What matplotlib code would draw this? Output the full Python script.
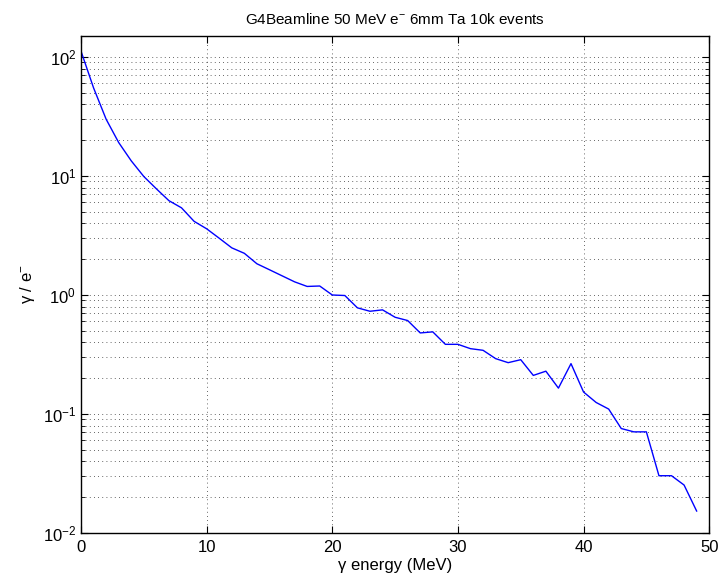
import numpy as np
import matplotlib
matplotlib.use("Agg")
import matplotlib.pyplot as plt
from matplotlib.ticker import LogLocator, MultipleLocator, NullFormatter

# Данные: спектр фотонов на электрон
energy = list(range(50))
photons = [112, 55, 30, 19.1, 13.4, 9.9, 7.8, 6.2, 5.4, 4.16,
           3.6, 3.0, 2.49, 2.24, 1.83, 1.63, 1.45, 1.29, 1.18, 1.19,
           1.0, 0.99, 0.78, 0.73, 0.75, 0.65, 0.61, 0.48, 0.49, 0.385,
           0.385, 0.354, 0.343, 0.292, 0.27, 0.286, 0.211, 0.229, 0.165, 0.265,
           0.153, 0.125, 0.110, 0.0755, 0.0708, 0.0708, 0.0303, 0.0303, 0.0253, 0.0153]

plt.rcParams['font.family'] = ['Liberation Sans', 'DejaVu Sans']
plt.rcParams['mathtext.default'] = 'regular'
plt.rcParams['font.size'] = 12

fig = plt.figure(figsize=(7.2, 5.81), dpi=100)
ax = fig.add_axes([0.1125, 0.0826, 0.8725, 0.8554])

ax.semilogy(energy, photons, color='#0000ff', linewidth=1.0)

ax.set_xlim(0, 50)
ax.set_ylim(0.01, 150)
ax.xaxis.set_major_locator(MultipleLocator(10))
ax.yaxis.set_major_locator(LogLocator(base=10, numticks=10))
ax.yaxis.set_minor_locator(LogLocator(base=10, subs=np.arange(2, 10), numticks=20))
ax.yaxis.set_minor_formatter(NullFormatter())

# Сетка в стиле MATLAB
grid_style = dict(color='black', linestyle=(0, (1, 4)), linewidth=0.6, alpha=0.8)
ax.grid(True, which='major', axis='both', **grid_style)
ax.grid(True, which='minor', axis='y', **grid_style)

ax.tick_params(which='both', direction='in', top=True, right=True, labelsize=12)
ax.tick_params(which='major', length=5)
ax.tick_params(which='minor', length=3)
ax.tick_params(axis='x', pad=5)
for s in ax.spines.values():
    s.set_linewidth(1.0)

ax.set_title('G4Beamline 50 MeV $e^{-}$ 6mm Ta 10k events', fontsize=11, pad=9)
ax.set_xlabel('γ energy (MeV)', fontsize=12, labelpad=2)
ax.set_ylabel('γ / $e^{-}$', fontsize=12, labelpad=4)

fig.savefig('out.png', dpi=100)
